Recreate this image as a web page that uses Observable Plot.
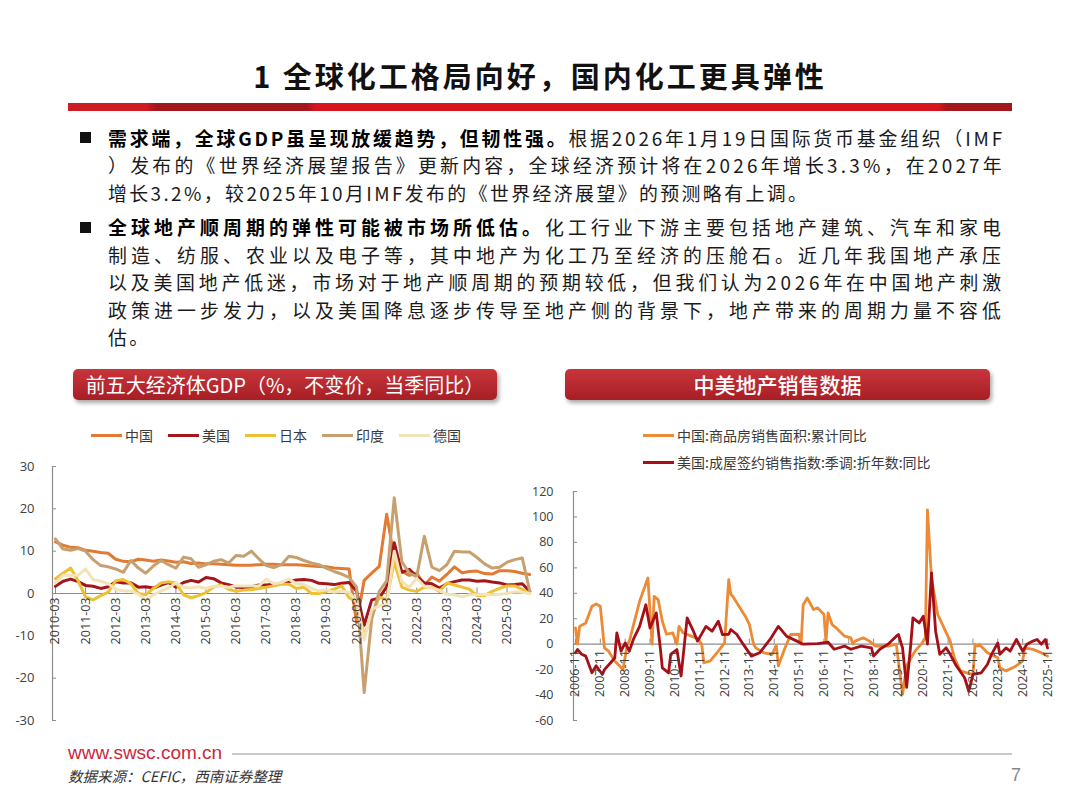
<!DOCTYPE html>
<html><head><meta charset="utf-8">
<script src="https://cdn.jsdelivr.net/npm/d3@7"></script>
<script src="https://cdn.jsdelivr.net/npm/@observablehq/plot@0.6"></script>
<style>
html,body{margin:0;padding:0;background:#fff;}
#page{position:relative;width:1080px;height:810px;overflow:hidden;font-family:"Noto Sans CJK SC","Noto Sans",sans-serif;color:#1a1a1a;}
.a{position:absolute;}
#title{left:0;width:1080px;top:53px;line-height:44px;text-align:center;font-size:29px;font-weight:700;letter-spacing:3px;color:#111;}
#bar{left:68px;top:103px;width:944px;height:8px;background:linear-gradient(90deg,#cf1c23 0px,#cf1c23 78px,#a3161c 88px,#a3161c 238px,#d7151e 248px,#d7151e 870px,#a3161c 880px,#a3161c 944px);}
.ln{position:absolute;left:108px;height:27.5px;line-height:27.5px;font-size:18.9px;white-space:nowrap;color:#1a1a1a;}
.ln b{font-weight:700;color:#000;}
.nj{letter-spacing:2.4px;}
.bul{position:absolute;left:80px;width:11px;height:11px;background:#111;}
.hdr{position:absolute;top:369px;height:31px;line-height:31px;border-radius:5px;background:linear-gradient(#c8353b,#a71e25);color:#fff;text-align:center;box-shadow:2px 3px 4px rgba(0,0,0,0.35);white-space:nowrap;}
.lg{position:absolute;font-size:14px;color:#3a3a3a;line-height:18px;white-space:nowrap;}
.sw{position:absolute;height:3px;}
</style></head><body><div id="page">
<div id="title" class="a">1 全球化工格局向好，国内化工更具弹性</div>
<div id="bar" class="a"></div>

<div class="bul" style="top:132px"></div>
<div class="ln j" style="top:123.75px"><b>需求端，全球GDP虽呈现放缓趋势，但韧性强。</b>根据2026年1月19日国际货币基金组织（IMF</div>
<div class="ln j" style="top:151.25px">）发布的《世界经济展望报告》更新内容，全球经济预计将在2026年增长3.3%，在2027年</div>
<div class="ln nj" style="top:178.75px">增长3.2%，较2025年10月IMF发布的《世界经济展望》的预测略有上调。</div>
<div class="bul" style="top:221.5px"></div>
<div class="ln j" style="top:213.25px"><b>全球地产顺周期的弹性可能被市场所低估。</b>化工行业下游主要包括地产建筑、汽车和家电</div>
<div class="ln j" style="top:240.75px">制造、纺服、农业以及电子等，其中地产为化工乃至经济的压舱石。近几年我国地产承压</div>
<div class="ln j" style="top:268.25px">以及美国地产低迷，市场对于地产顺周期的预期较低，但我们认为2026年在中国地产刺激</div>
<div class="ln j" style="top:295.75px">政策进一步发力，以及美国降息逐步传导至地产侧的背景下，地产带来的周期力量不容低</div>
<div class="ln nj" style="top:323.25px">估。</div>

<div class="hdr" style="left:73px;width:424px;font-size:20px;">前五大经济体GDP（%，不变价，当季同比）</div>
<div class="hdr" style="left:565px;width:425px;font-size:21px;font-weight:500;">中美地产销售数据</div>

<div id="legL"></div>
<div id="legR"></div>

<div id="chartL" class="a" style="left:0;top:455px;"></div>
<div id="chartR" class="a" style="left:540px;top:480px;"></div>

<div class="a" style="left:68px;top:741px;font-family:'Liberation Sans',Arial,sans-serif;font-size:19px;color:#c9283d;line-height:24px;">www.swsc.com.cn</div>
<div class="a" style="left:232px;top:753px;width:780px;height:2px;background:#c9c9c9;"></div>
<div class="a" style="left:68px;top:766px;font-size:14.5px;font-style:italic;color:#333;line-height:20px;">数据来源：CEFIC，西南证券整理</div>
<div class="a" style="left:1011px;top:763px;font-size:18px;color:#888;line-height:24px;font-family:'Liberation Sans',sans-serif;">7</div>
</div>
<script>
// ---------- Left chart data: GDP YoY (%) ----------
const gdpTickLabels = ["2010-03","2011-03","2012-03","2013-03","2014-03","2015-03","2016-03","2017-03","2018-03","2019-03","2020-03","2021-03","2022-03","2023-03","2024-03","2025-03"];
const gdpYTicks = [-30,-20,-10,0,10,20,30];
const gdpNames = ["中国","美国","日本","印度","德国"];
const gdpChina = [12.2,11.4,10.9,10.8, 10.2,10.0,9.7,9.5, 8.1,7.6,7.5,8.1, 7.9,7.6,7.9,7.7, 7.4,7.5,7.1,7.2, 7.0,7.0,6.9,6.8, 6.7,6.7,6.7,6.8, 6.9,6.9,6.8,6.8, 6.8,6.7,6.5,6.4, 6.3,6.0,5.9,5.8, -6.9,3.1,4.8,6.4, 18.7,8.3,5.2,4.3, 4.8,2.0,3.9,2.9, 4.5,6.3,4.9,5.2, 5.3,4.7,4.6,5.4, 5.4,5.2,4.8,4.5];
const gdpUS = [1.7,2.9,3.4,2.8, 1.9,1.7,1.2,1.6, 2.8,2.5,2.5,1.5, 1.6,1.3,2.0,2.6, 1.5,2.6,3.1,2.7, 3.8,3.5,2.5,2.1, 1.5,1.4,1.6,2.0, 2.0,2.2,2.4,2.8, 3.2,3.3,3.1,2.4, 2.3,2.1,2.4,2.6, 0.6,-7.5,-1.5,-1.1, 1.6,12.0,5.0,5.7, 4.0,2.5,2.3,1.3, 2.3,2.8,3.2,3.2, 2.9,3.0,2.7,2.5, 2.0,2.1,2.3,0.5];
const gdpJapan = [3.5,4.8,6.0,3.0, -0.8,-1.5,-0.5,0.3, 3.0,3.3,2.3,0.0, -0.3,1.2,2.5,2.8, 2.5,-0.3,-1.0,-0.5, 0.2,1.5,2.0,1.0, 0.5,0.8,0.9,1.2, 1.5,1.8,2.2,2.2, 1.2,1.5,0.0,0.0, 0.5,1.0,1.8,-1.0, -2.0,-10.0,-5.5,-0.8, -1.5,7.5,1.5,0.8, 0.5,1.5,1.5,0.5, 2.5,2.0,1.5,1.0, -0.5,-0.5,0.5,1.2, 1.8,1.8,1.0,0.0];
const gdpIndia = [12.9,10.5,10.2,10.6, 10.0,8.0,6.6,6.3, 5.8,5.0,7.8,6.0, 4.8,6.5,7.8,6.8, 6.0,8.6,8.2,6.2, 6.8,7.6,8.0,7.2, 9.0,8.8,10.0,8.2, 6.6,6.1,6.8,8.8, 8.5,7.8,7.2,6.8, 6.0,5.2,4.6,3.8, 1.5,-23.4,-6.0,0.5, 3.0,22.6,7.5,4.8, 4.0,13.5,6.2,5.4, 6.8,10.0,9.8,9.8, 8.5,7.0,6.0,6.2, 7.4,8.0,8.4,0.5];
const gdpGermany = [2.5,4.3,4.3,4.3, 5.8,3.3,2.9,2.3, 1.0,0.6,0.6,-0.2, -1.6,-0.3,0.6,1.3, 2.5,1.5,1.3,1.6, 1.2,1.7,1.7,1.5, 1.8,1.8,1.8,1.8, 3.4,2.3,2.6,3.4, 2.3,2.1,1.2,0.6, 0.9,0.3,0.6,0.3, -1.8,-11.0,-3.8,-2.9, -2.9,10.0,2.8,1.5, 3.6,1.7,1.3,0.8, -0.2,-0.3,-0.8,-0.3, -0.3,-0.2,-0.3,-0.2, 0.0,0.4,0.3,0.0];

// ---------- Right chart data: China / US property sales YoY (%) ----------
const reTickLabels = ["2006-11","2007-11","2008-11","2009-11","2010-11","2011-11","2012-11","2013-11","2014-11","2015-11","2016-11","2017-11","2018-11","2019-11","2020-11","2021-11","2022-11","2023-11","2024-11","2025-11"];
const reYTicks = [-60,-40,-20,0,20,40,60,80,100,120];
const reNames = ["中国:商品房销售面积:累计同比","美国:成屋签约销售指数:季调:折年数:同比"];
const cnDates = ["2006-11","2006-12","2007-01","2007-04","2007-07","2007-09","2007-11","2008-01","2008-03","2008-06","2008-10","2008-12","2009-01","2009-06","2009-10","2009-12","2010-01","2010-03","2010-05","2010-07","2010-10","2010-12","2011-01","2011-03","2011-07","2011-10","2011-12","2012-01","2012-04","2012-08","2012-11","2013-01","2013-02","2013-03","2013-07","2013-09","2013-11","2014-01","2014-02","2014-06","2014-10","2014-12","2015-01","2015-04","2015-07","2015-11","2015-12","2016-01","2016-03","2016-06","2016-08","2016-11","2016-12","2017-01","2017-03","2017-05","2017-09","2017-12","2018-01","2018-02","2018-06","2018-09","2018-12","2019-03","2019-06","2019-10","2020-01","2020-03","2020-07","2020-10","2020-12","2021-01","2021-03","2021-06","2021-09","2021-12","2022-02","2022-05","2022-08","2022-11","2022-12","2023-01","2023-02","2023-06","2023-11","2023-12","2024-03","2024-07","2024-11","2024-12","2025-04","2025-08","2025-11"];
const cnVals = [12.8,0,14,16.7,29.8,31.6,29.8,-2.9,-5.5,-13.3,-19.9,0,2.4,33.7,52,0,37.6,35,18,7.8,8.9,0,14,9,6.3,4.4,0,-14.6,-13.3,-5.5,1.0,50.7,39,37.6,27.2,22,15.6,0,-2.9,-6.8,-8,-1,-17,-4,7.6,7.8,0,31,36.3,27.2,28.5,23.3,2,24.6,15.4,12.8,6.3,5,0,2.4,5,2.4,-1.5,-1.5,-1.5,0,-39.5,-17,-5.5,0,5,105.6,52,23.3,12.8,2.4,-10.7,-21,-22.5,-24,0,-1.5,0,-6.8,-10.7,-18.6,-21,-18,-13.3,-3,-4.1,-6.8,-9.4];
const usDates = ["2006-11","2006-12","2007-02","2007-04","2007-07","2007-09","2007-12","2008-01","2008-04","2008-06","2008-07","2008-09","2008-11","2009-01","2009-03","2009-06","2009-09","2009-11","2010-02","2010-04","2010-05","2010-08","2010-09","2010-12","2011-02","2011-05","2011-08","2011-10","2012-02","2012-05","2012-08","2012-10","2013-01","2013-02","2013-05","2013-08","2013-12","2014-04","2014-09","2015-01","2015-05","2015-10","2016-01","2016-08","2017-01","2017-04","2017-09","2017-12","2018-05","2018-10","2018-11","2019-02","2019-06","2019-10","2019-11","2020-01","2020-03","2020-05","2020-06","2020-09","2020-11","2021-01","2021-03","2021-05","2021-07","2021-10","2021-12","2022-03","2022-07","2022-09","2022-11","2023-03","2023-06","2023-08","2023-11","2023-12","2024-03","2024-05","2024-08","2024-11","2025-01","2025-04","2025-06","2025-08","2025-10","2025-11"];
const usVals = [-6.8,-4.2,-8,-9.4,-22.5,-17,-23.8,-20,-14.6,-10.7,8.9,-5.5,1,-5.5,3.7,14,31,12.8,24.6,-2.9,-18.6,-22.5,-8,-4.2,-25,20.6,10.2,2.4,14,10.2,18,7.6,7.8,11.5,7.6,0,-9.4,-6.8,3.7,14,6.3,2.4,0,0.5,1.5,-4,-1.5,-4,-1.5,-3,-9.4,-4,0,6.3,7.6,-3,-34,0,20.6,16.7,22,0,56,10.2,-8,-2.9,-8,-17,-26.4,-37,-23.8,-22.5,-16,-8,1,-8,-3,-5.5,3.7,-5.5,0,2.4,3.7,0,3.7,-3];

// ---------- styles ----------
const gdpColors = ["#E27A33","#A3161C","#EDC132","#C7A06F","#F2E3B8"];
const reColors = ["#EC8A35","#A50F17"];
const axisColor = "#8c8c8c";
const labelColor = "#404040";

// ---------- text justification ----------
document.querySelectorAll(".ln.j").forEach(el => {
  el.style.letterSpacing = "0px";
  const w = el.getBoundingClientRect().width;
  const n = el.textContent.length;
  el.style.letterSpacing = ((897 - w) / n) + "px";
});

// ---------- legends ----------
function legendItem(parent, x, y, color, label, swW) {
  const sw = document.createElement("div");
  sw.className = "sw"; sw.style.left = x + "px"; sw.style.top = (y - 1.5) + "px";
  sw.style.width = swW + "px"; sw.style.background = color;
  const t = document.createElement("div");
  t.className = "lg"; t.style.left = (x + swW + 3) + "px"; t.style.top = (y - 9) + "px";
  t.textContent = label;
  parent.appendChild(sw); parent.appendChild(t);
}
const legL = document.getElementById("legL");
[91,168,245,322,399].forEach((x,i) => legendItem(legL, x, 435, gdpColors[i], gdpNames[i], 31));
const legR = document.getElementById("legR");
legendItem(legR, 643, 435, reColors[0], reNames[0], 31);
legendItem(legR, 643, 462, reColors[1], reNames[1], 31);

// ---------- left chart ----------
const parseYM = d3.utcParse("%Y-%m");
const quarterDates = [];
for (let y = 2010; y <= 2025; y++) for (const m of [3,6,9,12]) quarterDates.push(new Date(Date.UTC(y, m - 1, 1)));
const gdpValues = [gdpChina, gdpUS, gdpJapan, gdpIndia, gdpGermany];
const gdpRows = gdpNames.map((n,k) => gdpValues[k].map((v,i) => ({date: quarterDates[i], value: v, name: n})));
const gdpTickDates = gdpTickLabels.map(parseYM);
const gx0 = new Date(Date.UTC(2010,0,24)), gx1 = new Date(Date.UTC(2025,11,10));
const LW = 540, LH = 285, LML = 52, LMR = 10;

const left = Plot.plot({
  width: LW, height: LH, marginLeft: LML, marginRight: LMR, marginTop: 11, marginBottom: 20,
  x: {type: "utc", domain: [gx0, gx1], axis: null},
  y: {domain: [-30, 30], axis: null},
  style: {fontFamily: "'Open Sans', sans-serif", fontSize: "13px", color: labelColor, background: "transparent", overflow: "visible"},
  marks: [
    Plot.axisY({ticks: gdpYTicks, tickSize: 0, tickPadding: 18, tickFormat: d => String(d), fontSize: 13, fill: labelColor, label: null}),
    Plot.ruleX([gx0], {y1: -30, y2: 30, stroke: axisColor, strokeWidth: 1.2}),
    Plot.tickY(gdpYTicks, {y: d => d, stroke: axisColor, insetRight: LW - LML - LMR - 4}),
    Plot.ruleY([0], {stroke: axisColor, strokeWidth: 1.2}),
    Plot.ruleX(gdpTickDates, {x: d => d, y1: 0, y2: 1.3, stroke: axisColor}),
    ...gdpRows.map((rows,k) => Plot.line(rows, {x: "date", y: "value", stroke: gdpColors[k], strokeWidth: 3, strokeLinejoin: "round"})),
    Plot.text(gdpTickDates, {x: d => d, y: 0, text: (d,i) => gdpTickLabels[i], rotate: -90, textAnchor: "end", dy: 4, fontSize: 12.5, fill: labelColor})
  ]
});
document.getElementById("chartL").appendChild(left);

// ---------- right chart ----------
const cnRows = cnDates.map((d,i) => ({date: parseYM(d), value: cnVals[i]}));
const usRows = usDates.map((d,i) => ({date: parseYM(d), value: usVals[i]}));
const reTickDates = reTickLabels.map(parseYM);
const rx0 = new Date(Date.UTC(2006,9,3)), rx1 = new Date(Date.UTC(2025,11,15));
const RW = 520, RH = 260, RML = 33, RMR = 10;

const right = Plot.plot({
  width: RW, height: RH, marginLeft: RML, marginRight: RMR, marginTop: 11, marginBottom: 20,
  x: {type: "utc", domain: [rx0, rx1], axis: null},
  y: {domain: [-60, 120], axis: null},
  style: {fontFamily: "'Open Sans', sans-serif", fontSize: "13px", color: labelColor, background: "transparent", overflow: "visible"},
  marks: [
    Plot.axisY({ticks: reYTicks, tickSize: 0, tickPadding: 20, tickFormat: d => String(d), fontSize: 12.5, fill: labelColor, label: null}),
    Plot.ruleX([rx0], {y1: -60, y2: 120, stroke: axisColor, strokeWidth: 1.2}),
    Plot.tickY(reYTicks, {y: d => d, stroke: axisColor, insetRight: RW - RML - RMR - 4}),
    Plot.ruleY([0], {stroke: axisColor, strokeWidth: 1.2}),
    Plot.ruleX(reTickDates, {x: d => d, y1: 0, y2: 4, stroke: axisColor}),
    Plot.line(cnRows, {x: "date", y: "value", stroke: reColors[0], strokeWidth: 2.8, strokeLinejoin: "round"}),
    Plot.line(usRows, {x: "date", y: "value", stroke: reColors[1], strokeWidth: 2.8, strokeLinejoin: "round"}),
    Plot.text(reTickDates, {x: d => d, y: 0, text: (d,i) => reTickLabels[i], rotate: -90, textAnchor: "end", dy: 6, fontSize: 12.5, fill: labelColor})
  ]
});
document.getElementById("chartR").appendChild(right);
</script>
</body></html>
